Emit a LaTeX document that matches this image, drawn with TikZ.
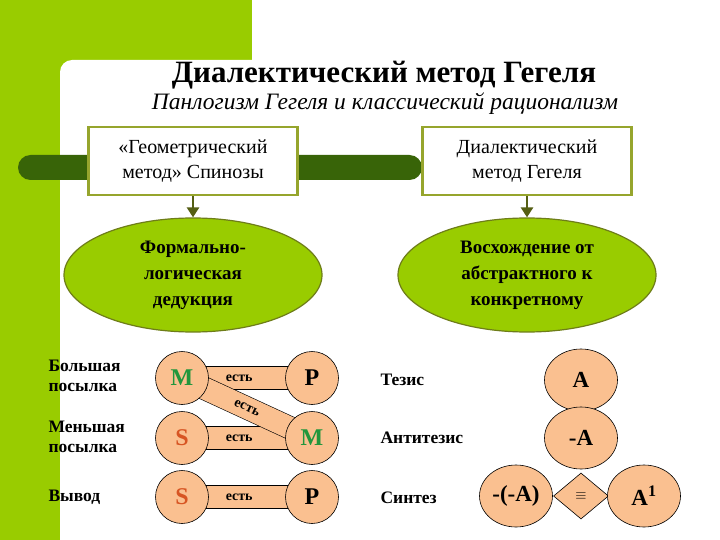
\documentclass[tikz,border=0pt]{standalone}
\usepackage{fontspec}
\setmainfont{Liberation Serif}
\usetikzlibrary{shapes.geometric,arrows.meta}
\pgfdeclarelayer{back}
\pgfdeclarelayer{bands}
\pgfsetlayers{back,bands,main}
\definecolor{leaf}{RGB}{153,204,0}
\definecolor{forest}{RGB}{56,100,8}
\definecolor{olivebox}{RGB}{150,165,45}
\definecolor{oliveline}{RGB}{110,125,25}
\definecolor{arrowcol}{RGB}{85,95,20}
\definecolor{peach}{RGB}{250,192,144}
\definecolor{termM}{RGB}{34,150,60}
\definecolor{termS}{RGB}{215,85,35}

\begin{document}
\begin{tikzpicture}[x=1pt,y=-1pt,
  methodbox/.style={draw=olivebox,line width=2.5pt,fill=white,minimum width=209,minimum height=68,align=center,font=\fontsize{20}{25}\selectfont},
  wayoval/.style={ellipse,draw=oliveline,line width=1.2pt,fill=leaf,minimum width=258,minimum height=114,inner sep=0pt,align=center,font=\bfseries\fontsize{19}{26}\selectfont},
  pointer/.style={-{Triangle[length=10pt,width=12pt]},draw=arrowcol,line width=2.5pt},
  rowlabel/.style={anchor=west,align=left,font=\bfseries\fontsize{17.5}{20}\selectfont},
  term/.style={circle,draw,line width=0.6pt,fill=peach,minimum size=53,inner sep=0pt,font=\bfseries\fontsize{24}{24}\selectfont},
  band/.style={line width=0.6pt,double=peach,double distance=22pt},
  est/.style={font=\bfseries\fontsize{14}{14}\selectfont},
  stage/.style={ellipse,draw,line width=0.6pt,fill=peach,minimum width=73,minimum height=62,inner sep=0pt,font=\bfseries\fontsize{23}{23}\selectfont}]
\useasboundingbox (0,0) rectangle (720,540);
\begin{pgfonlayer}{back}
\fill[leaf] (0,0) rectangle (252,80);
\fill[leaf] (0,0) rectangle (80,540);
\fill[white,rounded corners=12] (60,60) rectangle (740,560);
\fill[forest,rounded corners=12.5] (18,155) rectangle (422,180);
\end{pgfonlayer}

\node[anchor=base,font=\bfseries\fontsize{31}{31}\selectfont] (title) at (384,83) {Диалектический метод Гегеля};
\node[anchor=base,font=\itshape\fontsize{23.5}{23.5}\selectfont] (subtitle) at (385,110) {Панлогизм Гегеля и классический рационализм};

\node[methodbox] (spinoza) at (193,161) {«Геометрический\\метод» Спинозы};
\node[methodbox] (hegel) at (527,161) {Диалектический\\метод Гегеля};
\node[wayoval] (deduct) at (193,275) {Формально-\\логическая\\дедукция};
\node[wayoval] (ascent) at (527,275) {Восхождение от\\абстрактного к\\конкретному};
\draw[pointer] (spinoza) -- (deduct);
\draw[pointer] (hegel) -- (ascent);

\node[rowlabel] (major) at (45,376) {Большая\\посылка};
\node[rowlabel] (minor) at (45,437) {Меньшая\\посылка};
\node[rowlabel] (concl) at (45,497) {Вывод};
\node[term,text=termM] (m1) at (182,378) {M};
\node[term] (p1) at (312,378) {P};
\node[term,text=termS] (s2) at (182,438) {S};
\node[term,text=termM] (m2) at (312,438) {M};
\node[term,text=termS] (s3) at (182,497) {S};
\node[term] (p3) at (312,497) {P};
\begin{pgfonlayer}{bands}
\draw[band] (m1.center) -- node[est,pos=0.44] (e1) {есть} (p1.center);
\draw[band] (s2.center) -- node[est,pos=0.44] (e2) {есть} (m2.center);
\draw[band] (s3.center) -- node[est,pos=0.44] (e3) {есть} (p3.center);
\draw[band] (m1.center) -- node[est,sloped] (e4) {есть} (m2.center);
\end{pgfonlayer}

\node[rowlabel] (thesis) at (377,380) {Тезис};
\node[rowlabel] (anti) at (377,438) {Антитезис};
\node[rowlabel] (synth) at (377,498) {Синтез};
\node[stage] (a0) at (581,380) {A};
\node[stage] (a1) at (581,438) {-A};
\node[stage] (a2) at (516,496) {-(-A)};
\node[diamond,draw,line width=0.6pt,fill=peach,minimum width=55,minimum height=46,inner sep=0pt,font=\fontsize{14}{14}\selectfont] (same) at (581,496) {$\equiv$};
\node[stage] (a3) at (644,496) {A\textsuperscript{1}};
\end{tikzpicture}
\end{document}
